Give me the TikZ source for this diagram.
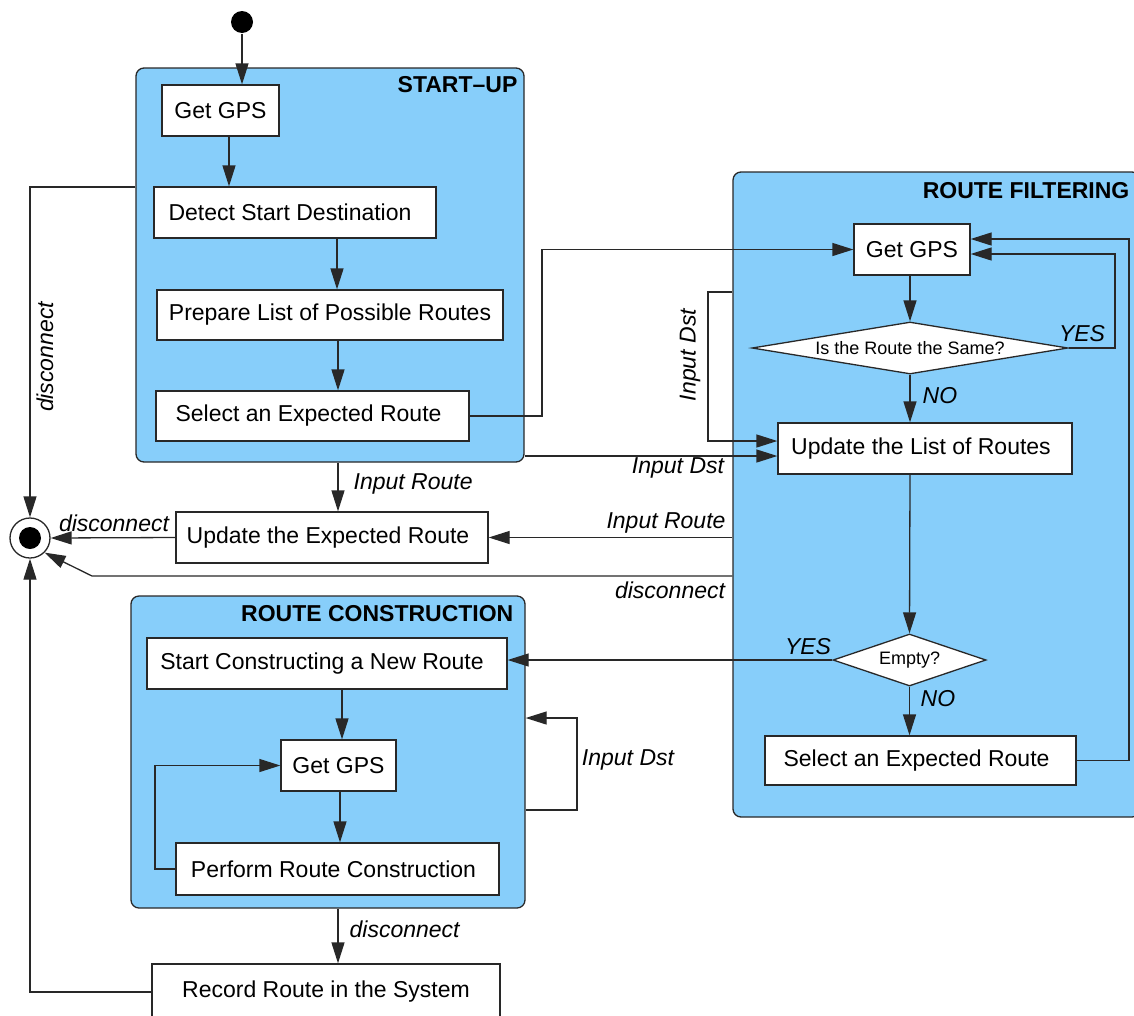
\documentclass[tikz,border=0pt]{standalone}
\usepackage{fontspec}
\setmainfont{Liberation Sans}
\usetikzlibrary{arrows.meta,shapes.geometric}
\definecolor{contcol}{RGB}{135,206,250}
\definecolor{ln}{RGB}{40,40,40}
\begin{document}
\begin{tikzpicture}[x=1pt,y=-1pt,line width=1.3pt,
  box/.style={draw=ln,fill=white,line width=1.3pt,font=\fontsize{23}{27}\selectfont,inner sep=0pt},
  cont/.style={draw=ln,fill=contcol,rounded corners=8pt,line width=1.3pt,inner sep=0pt},
  dia/.style={diamond,draw=ln,fill=white,line width=1.3pt,font=\fontsize{18}{21}\selectfont,inner sep=0pt},
  arr/.style={draw=ln,line width=1.3pt,-{Triangle[length=21pt,width=13pt]}},
  lab/.style={font=\fontsize{23}{27}\selectfont\itshape,inner sep=0pt},
  ttl/.style={font=\fontsize{23}{27}\selectfont\bfseries,inner sep=0pt}]
\useasboundingbox (0,0) rectangle (1134,1015);

% columns / rows
\coordinate (c229) at (229,0);
\coordinate (c337) at (337,0);
\coordinate (c338) at (338,0);
\coordinate (c342) at (342,0);
\coordinate (c340) at (340,0);
\coordinate (c155) at (155,0);
\coordinate (c542) at (542,0);
\coordinate (c577) at (577,0);
\coordinate (c708) at (708,0);
\coordinate (c92) at (92,0);
\coordinate (c910) at (910,0);
\coordinate (c1115) at (1115,0);
\coordinate (c1129) at (1129,0);
\coordinate (r187) at (0,187);
\coordinate (r239) at (0,239);
\coordinate (r254) at (0,254);
\coordinate (r292) at (0,292);
\coordinate (r441) at (0,441);
\coordinate (r456) at (0,456);
\coordinate (r576) at (0,576);
\coordinate (r718) at (0,718);
\coordinate (r810) at (0,810);

% containers
\node[cont,minimum width=388,minimum height=394] (su) at (330,265) {};
\node[ttl,anchor=east] (sut) at (518,85) {START--UP};
\node[cont,minimum width=407,minimum height=645] (rf) at (936.5,494.5) {};
\node[ttl,anchor=east] (rft) at (1130,191) {ROUTE FILTERING};
\node[cont,minimum width=394,minimum height=312] (rc) at (328,752) {};
\node[ttl,anchor=east] (rct) at (514,614) {ROUTE CONSTRUCTION};

% initial / final
\node[circle,fill=black,minimum size=22pt,inner sep=0pt] (init) at (242,22) {};
\node[circle,draw=ln,fill=white,line width=1.3pt,minimum size=40pt,inner sep=0pt] (fin) at (30,538) {};
\node[circle,fill=black,minimum size=22pt,inner sep=0pt] (finc) at (fin) {};

% START-UP
\node[box,minimum width=117,minimum height=51] (sgps) at (220.5,110.5) {Get GPS};
\node[box,minimum width=282,minimum height=51] (sdet) at (295,212.5) {\hspace*{-10pt}Detect Start Destination};
\node[box,minimum width=346,minimum height=50] (sprep) at (330,315) {Prepare List of Possible Routes};
\node[box,minimum width=313,minimum height=50] (ssel) at (312.5,416) {\hspace*{-8pt}Select an Expected Route};

% middle
\node[box,minimum width=312,minimum height=51] (uer) at (332,537.5) {\hspace*{-8pt}Update the Expected Route};

% ROUTE FILTERING
\node[box,minimum width=116,minimum height=51] (rgps) at (912,249.5) {Get GPS};
\node[dia,aspect=6,minimum width=316,minimum height=52] (rdia) at (910,348) {Is the Route the Same?};
\node[box,minimum width=294,minimum height=51] (rupd) at (925,448.5) {\hspace*{-8pt}Update the List of Routes};
\node[dia,aspect=3,minimum width=153,minimum height=52] (remp) at (909.5,660) {Empty?};
\node[box,minimum width=311,minimum height=49] (rsel) at (920.5,760.5) {\hspace*{-8pt}Select an Expected Route};

% ROUTE CONSTRUCTION
\node[box,minimum width=360,minimum height=51] (scn) at (327,663.5) {\hspace*{-10pt}Start Constructing a New Route};
\node[box,minimum width=115,minimum height=51] (cgps) at (338.5,765.5) {Get GPS};
\node[box,minimum width=323,minimum height=52] (cprc) at (337.5,869) {\hspace*{-8pt}Perform Route Construction};
\node[box,minimum width=348,minimum height=56] (rec) at (326,992) {Record Route in the System};

% START-UP connectors
\draw[arr] (init) -- (init |- sgps.north);
\draw[arr] (c229 |- sgps.south) -- (c229 |- sdet.north);
\draw[arr] (c337 |- sdet.south) -- (c337 |- sprep.north);
\draw[arr] (c338 |- sprep.south) -- (c338 |- ssel.north);

% disconnect from START-UP
\draw[arr] (su.west |- r187) -- (fin.north |- r187) -- (fin.north);
\node[lab,rotate=90] (l1) at (45,357) {disconnect};

% START-UP -> Update Expected Route
\draw[arr] (c338 |- su.south) -- (c338 |- uer.north);
\node[lab,anchor=west] (l2) at (353,484) {Input Route};
\draw[arr] (uer.west) -- (fin.east);
\node[lab] (l3) at (114,523) {disconnect};

% START-UP -> ROUTE FILTERING
\draw[arr] (ssel.east) -- (c542 |- ssel.east) -- (c542 |- rgps.west) -- (rgps.west);
\draw[arr] (su.east |- r456) -- (rupd.west |- r456);
\node[lab] (l4) at (678,468) {Input Dst};
\draw[arr] (rf.west |- r292) -- (c708 |- r292) -- (c708 |- r441) -- (rupd.west |- r441);
\node[lab,rotate=90] (l5) at (690,355) {Input Dst};

% ROUTE FILTERING internal
\draw[arr] (c910 |- rgps.south) -- (rdia.north);
\draw[arr] (rdia.south) -- (rdia.south |- rupd.north);
\node[lab,anchor=west] (l6) at (922,396) {NO};
\draw[arr] (rdia.east) -- (c1115 |- rdia.east) -- (c1115 |- r254) -- (rgps.east |- r254);
\node[lab] (l7) at (1082,334) {YES};
\draw[arr] (rsel.east) -- (c1129 |- rsel.east) -- (c1129 |- r239) -- (rgps.east |- r239);
\draw[arr] (rdia.south |- rupd.south) -- (remp.north);
\draw[arr] (remp.south) -- (remp.south |- rsel.north);
\node[lab,anchor=west] (l8) at (920,699) {NO};
\draw[arr] (remp.west) -- (remp.west -| scn.east);
\node[lab] (l9) at (808,647) {YES};

% ROUTE FILTERING -> middle / final
\draw[arr] (rf.west |- uer.east) -- (uer.east);
\node[lab] (l10) at (666,523) {Input Route};
\draw[arr] (rf.west |- r576) -- (c92 |- r576) -- (fin.south east);
\node[lab] (l11) at (670,590) {disconnect};

% ROUTE CONSTRUCTION internal
\draw[arr] (c342 |- scn.south) -- (c342 |- cgps.north);
\draw[arr] (c340 |- cgps.south) -- (c340 |- cprc.north);
\draw[arr] (cprc.west) -- (c155 |- cprc.west) -- (c155 |- cgps.west) -- (cgps.west);
\draw[arr] (rc.east |- r810) -- (c577 |- r810) -- (c577 |- r718) -- (rc.east |- r718);
\node[lab] (l12) at (628,760) {Input Dst};

% ROUTE CONSTRUCTION -> record -> final
\draw[arr] (c338 |- rc.south) -- (c338 |- rec.north);
\node[lab,anchor=west] (l13) at (349,929) {disconnect};
\draw[arr] (rec.west) -- (rec.west -| fin.south) -- (fin.south);
\end{tikzpicture}
\end{document}
